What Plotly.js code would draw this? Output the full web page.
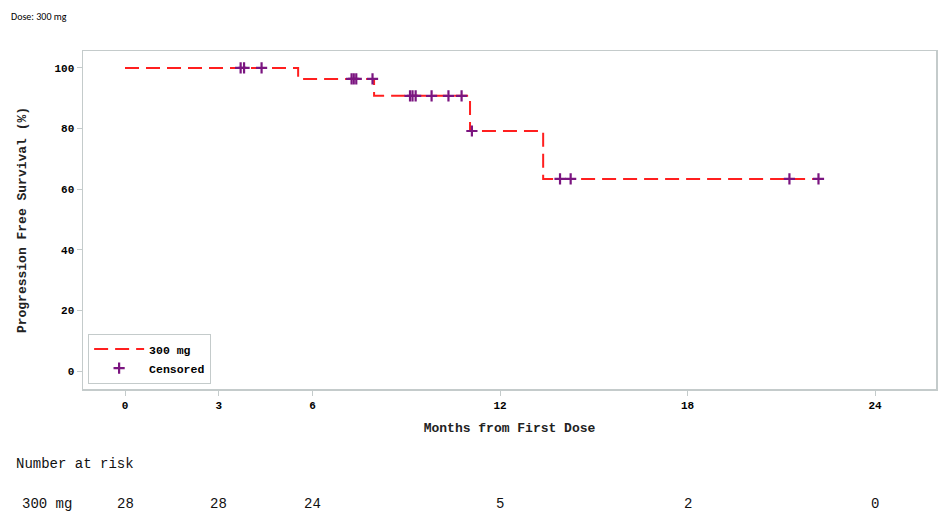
<!DOCTYPE html>
<html>
<head>
<meta charset="utf-8">
<script src="https://cdn.plot.ly/plotly-3.0.1.min.js"></script>
<style>html,body{margin:0;padding:0;background:#fff;}#chart{width:940px;height:513px;}</style>
</head>
<body>
<div id="chart"></div>
<script>
// Kaplan-Meier step curve (drop times and survival levels)
const stepMonths = [0, 5.54, 7.97, 11.04, 13.38, 22.19];
const stepSurvival = [100, 96.4, 90.8, 79.2, 63.4, 63.4];

// Censored observations
const censorMonths = [3.70, 3.81, 4.37, 7.25, 7.32, 7.40, 7.92, 9.12, 9.20, 9.30, 9.81, 10.35, 10.77, 11.10, 13.92, 14.26, 21.26, 22.19];
const censorSurvival = [100, 100, 100, 96.4, 96.4, 96.4, 96.4, 90.8, 90.8, 90.8, 90.8, 90.8, 90.8, 79.2, 63.4, 63.4, 63.4, 63.4];

// Axis ticks
const xTicks = [0, 3, 6, 12, 18, 24];
const yTicks = [0, 20, 40, 60, 80, 100];

// Number at risk
const riskLabel = "300 mg";
const riskMonths = [0, 3, 6, 12, 18, 24];
const riskCounts = [28, 28, 24, 5, 2, 0];

const monoFam = "Liberation Mono, Courier New, monospace";
const tickFont = {family: monoFam, size: 11, color: "#000", weight: "bold"};
const titleFont = {family: monoFam, size: 13, color: "#222", weight: "bold"};
const riskFont = {family: monoFam, size: 14, color: "#111", weight: "normal"};
const legendFont = {family: monoFam, size: 11.5, color: "#000", weight: "bold"};
const gridGray = "#c4cbcb";

const traces = [
  {
    x: stepMonths, y: stepSurvival, type: "scatter", mode: "lines",
    name: "300 mg", line: {shape: "hv", color: "#ff1f1f", width: 2, dash: "14px,7px"},
    hoverinfo: "skip"
  },
  {
    x: censorMonths, y: censorSurvival, type: "scatter", mode: "markers",
    name: "Censored",
    marker: {symbol: "cross-thin-open", size: 8, color: "#7b1580", line: {color: "#7b1580", width: 2.2}}
  }
];

const annotations = [
  {text: "Dose: 300 mg", xref: "paper", yref: "paper", x: (9-83)/853, y: 1 + (51-17)/338, xanchor: "left", yanchor: "middle",
   showarrow: false, font: {family: "Carlito, Liberation Sans, sans-serif", size: 10, color: "#000"}},
  {text: "Number at risk", xref: "paper", yref: "paper", x: (14-83)/853, y: -(464-389)/338, xanchor: "left", yanchor: "middle",
   showarrow: false, font: riskFont},
  {text: riskLabel, xref: "paper", yref: "paper", x: (20-83)/853, y: -(504-389)/338, xanchor: "left", yanchor: "middle",
   showarrow: false, font: riskFont}
];
riskMonths.forEach((m, i) => {
  annotations.push({text: String(riskCounts[i]), xref: "x", yref: "paper", x: m, y: -(504-389)/338,
    xanchor: "center", yanchor: "middle", showarrow: false, font: riskFont});
});

const layout = {
  width: 940, height: 513,
  margin: {l: 83, r: 4, t: 51, b: 124},
  paper_bgcolor: "#fff", plot_bgcolor: "#fff",
  showlegend: true,
  legend: {x: 0.006, y: 0.016, xanchor: "left", yanchor: "bottom", bgcolor: "#fff",
    bordercolor: gridGray, borderwidth: 1, font: legendFont, tracegroupgap: 0, itemwidth: 50},
  xaxis: {
    range: [-1.344, 25.95], tickvals: xTicks, ticktext: xTicks.map(String),
    ticks: "outside", ticklen: 5, tickcolor: gridGray, showgrid: false, zeroline: false,
    showline: true, linecolor: gridGray, linewidth: 1.5, mirror: true, tickfont: tickFont,
    title: {text: "Months from First Dose", font: titleFont, standoff: 12}
  },
  yaxis: {
    range: [-5.94, 105.6], tickvals: yTicks, ticktext: yTicks.map(String),
    ticks: "outside", ticklen: 5, tickcolor: gridGray, showgrid: false, zeroline: false,
    showline: true, linecolor: gridGray, linewidth: 1.5, mirror: true, tickfont: tickFont,
    title: {text: "Progression Free Survival (%)", font: titleFont, standoff: 25}
  },
  annotations: annotations
};

Plotly.newPlot("chart", traces, layout, {displayModeBar: false, staticPlot: true});
</script>
</body>
</html>
